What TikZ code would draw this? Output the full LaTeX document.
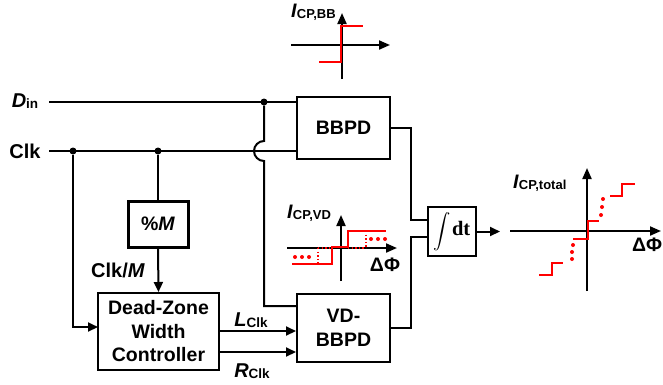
\documentclass[tikz,border=0pt]{standalone}
\usepackage{exscale}
\usepackage{fontspec}
\setmainfont{Liberation Sans}
\newfontfamily\seriffont{Liberation Serif}
\usetikzlibrary{arrows.meta}
\newcommand{\sbs}[1]{\raisebox{-1.5pt}{\fontsize{13.5}{13.5}\selectfont #1}}
\newcommand{\psbs}[1]{\raisebox{-1pt}{\fontsize{13}{13}\selectfont #1}}
\tikzset{
  box/.style={draw, line width=2pt, inner sep=0pt, align=center,
    font=\bfseries\fontsize{19.5}{23.5}\selectfont},
  lbl/.style={inner sep=0pt, font=\bfseries\fontsize{20}{22}\selectfont},
  plbl/.style={inner sep=0pt, font=\bfseries\fontsize{19.5}{20}\selectfont},
  wire/.style={line width=2pt},
  arr/.style={wire, -{Triangle[length=10pt,width=9pt]}},
  axisarr/.style={line width=2pt, -{Triangle[length=11pt,width=9pt]}},
  jdot/.style={circle, fill, inner sep=0pt, minimum size=7pt},
  redl/.style={line width=2pt, draw=red},
  redd/.style={line width=1.4pt, draw=red, dash pattern=on 1.4pt off 2.2pt},
  rdot/.style={circle, fill=red, inner sep=0pt, minimum size=4pt},
}
\begin{document}
\begin{tikzpicture}[x=1pt,y=-1pt]
\useasboundingbox (0,0) rectangle (663,384);

% ---------- blocks ----------
\node[box, minimum width=93pt, minimum height=62pt] (bbpd) at (343.5,128) {BBPD};
\node[box, minimum width=93pt, minimum height=68pt] (vd) at (343.5,328) {VD-\\BBPD};
\node[box, line width=3pt, minimum width=60pt, minimum height=46pt] (pm) at (158,224) {\%\textit{M}};
\node[box, minimum width=121pt, minimum height=77pt] (dz) at (158.5,331.5) {Dead-Zone\\Width\\Controller};
\node[box, minimum width=48pt, minimum height=49pt] (integ) at (452,231.5)
  {\fontsize{17.5}{20}\selectfont$\displaystyle\int$\kern1pt\seriffont\bfseries\fontsize{20.5}{22}\selectfont dt};

% ---------- input labels ----------
\node[lbl] (dinl) at (25,101) {\textit{D}\sbs{in}};
\node[lbl] (clkl) at (25,151) {Clk};
\node[lbl] (clkm) at (118,270) {Clk/\textit{M}};
\node[lbl] (lclk) at (251,320) {\textit{L}\sbs{Clk}};
\node[lbl] (rclk) at (252,371) {\textit{R}\sbs{Clk}};

% ---------- coordinates ----------
\coordinate (din) at (49,102);
\coordinate (clk) at (49,151);
\node[jdot] (j1) at (73,151) {};
\node[jdot] (j2) at (158,151) {};
\node[jdot] (j3) at (264,102) {};
\coordinate (hopt) at (264,141);
\coordinate (c3) at (264,306);
\coordinate (dzin) at (98,327);
\coordinate (lstart) at (219,331);
\coordinate (rstart) at (219,352);
\coordinate (mid1) at (411,220);
\coordinate (mid2) at (411,237);
\coordinate (iout) at (500,231.5);

% ---------- wires ----------
\draw[wire] (din) -- (din -| bbpd.west);
\draw[wire] (clk) -- (clk -| bbpd.west);
\draw[wire] (j3) -- (hopt) arc[start angle=90, end angle=270, radius=10pt] -- (c3) -- (c3 -| vd.west);
\draw[arr] (j1) |- (dzin);
\draw[wire] (j2) -- (pm.north);
\draw[arr] (pm.south) -- (dz.north);
\draw[arr] (lstart) -- (lstart -| vd.west);
\draw[arr] (rstart) -- (rstart -| vd.west);
\draw[wire] (bbpd.east) -| (mid1) -- (mid1 -| integ.west);
\draw[wire] (vd.east) -| (mid2) -- (mid2 -| integ.west);
\draw[arr] (integ.east) -- (iout);

% ---------- BB characteristic ----------
\draw[axisarr] (291,45) -- (390,45);
\draw[axisarr] (342,79) -- (342,13);
\draw[redl] (319,62) -- (341,62) -- (341,26) -- (363,26);
\node[plbl, anchor=base west] (ibb) at (291,17) {\textit{I}\psbs{CP,BB}};

% ---------- VD characteristic ----------
\draw[axisarr] (287,248) -- (397,248);
\draw[axisarr] (341,281) -- (341,215);
\draw[redl] (292,264) -- (332,264) -- (332,247) -- (348,247) -- (348,231) -- (386,231);
\draw[redd] (318,248) -- (318,264);
\draw[redd] (366,231) -- (366,248);
\draw[redd] (318,248) -- (332,248);
\draw[redd] (348,248) -- (366,248);
\node[rdot] (v1) at (371,239) {};
\node[rdot] (v2) at (378,239) {};
\node[rdot] (v3) at (385,239) {};
\node[rdot] (v4) at (295,257) {};
\node[rdot] (v5) at (302,257) {};
\node[rdot] (v6) at (309,257) {};
\node[plbl, anchor=base west] (ivd) at (287,218) {\textit{I}\psbs{CP,VD}};
\node[plbl] (dphi1) at (385,265) {ΔΦ};

% ---------- total characteristic ----------
\draw[axisarr] (510,231) -- (661,231);
\draw[axisarr] (587,291) -- (587,168);
\draw[redl] (573,239) -- (588,239) -- (588,221) -- (599,221);
\draw[redl] (610,196) -- (622,196) -- (622,184) -- (635,184);
\draw[redl] (539,275) -- (552,275) -- (552,263) -- (563,263);
\node[rdot] (t1) at (603,199) {};
\node[rdot] (t2) at (602,207) {};
\node[rdot] (t3) at (601,215) {};
\node[rdot] (t4) at (573,245) {};
\node[rdot] (t5) at (572,252) {};
\node[rdot] (t6) at (572,259) {};
\node[plbl, anchor=base west] (itot) at (513,188) {\textit{I}\psbs{CP,total}};
\node[plbl] (dphi2) at (647,245) {ΔΦ};
\end{tikzpicture}
\end{document}
